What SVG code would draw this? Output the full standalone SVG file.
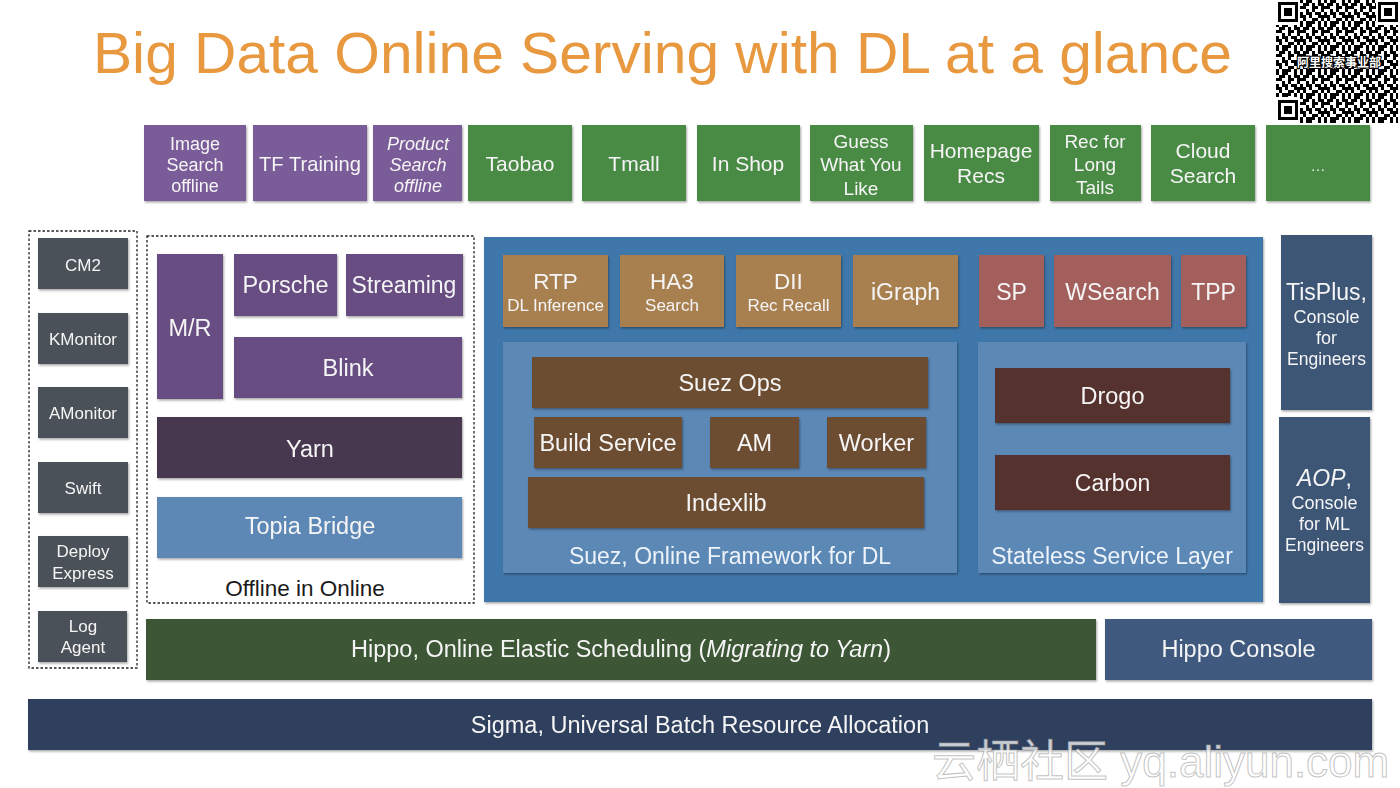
<svg xmlns="http://www.w3.org/2000/svg" width="1400" height="788" viewBox="0 0 1400 788">
<defs>
<filter id="sh" x="-10%" y="-10%" width="130%" height="140%">
<feDropShadow dx="1" dy="1.5" stdDeviation="1" flood-color="#000" flood-opacity="0.35"/>
</filter>
<pattern id="qr" x="1276" y="0" width="24" height="24" patternUnits="userSpaceOnUse">
<rect width="24" height="24" fill="#fff"/>
<path fill="#000" d="M0 0h3v3h-3zM6 0h6v3h-6zM18 0h3v3h-3zM3 3h6v3h-6zM12 3h3v3h-3zM18 3h6v3h-6zM0 6h6v3h-6zM12 6h6v3h-6zM21 6h3v3h-3zM6 9h3v3h-3zM12 9h3v3h-3zM21 9h3v3h-3zM0 12h3v3h-3zM6 12h6v3h-6zM15 12h6v3h-6zM0 15h6v3h-6zM9 15h3v3h-3zM18 15h6v3h-6zM3 18h3v3h-3zM12 18h6v3h-6zM21 18h3v3h-3zM0 21h3v3h-3zM6 21h9v3h-9zM18 21h3v3h-3z"/>
</pattern>
</defs>
<style>
text{font-family:"Liberation Sans",Arial,"Noto Sans CJK SC",sans-serif;fill:#f5f5f5;text-anchor:middle}
.b{filter:url(#sh)}
.pu{fill:#7a5c98}
.gr{fill:#4a8a45}
.gy{fill:#4b5158}
.dp{fill:#674d82}
.yn{fill:#463850}
.tb{fill:#5d87b5}
.or{fill:#a88050}
.br{fill:#6c4d33}
.rd{fill:#a25f5b}
.mr{fill:#56312e}
.sl{fill:#3c5676}
.dash{fill:none;stroke:#222;stroke-width:1.3;stroke-dasharray:2.5 2}
.t17{font-size:17px}
.t18{font-size:18px}
.t19{font-size:19px}
.t21{font-size:21px}
.t22{font-size:22.5px}
.t23{font-size:23px}
.t24{font-size:23.5px}
.s17{font-size:17px}
</style>
<rect width="1400" height="788" fill="#fff"/>

<g id="title">
<text x="93" y="73" textLength="1139" lengthAdjust="spacingAndGlyphs" style="font-size:57.5px;fill:#e8983e;text-anchor:start">Big Data Online Serving with DL at a glance</text>
</g>

<g id="qrcode">
<rect x="1276" y="0" width="122" height="123" fill="url(#qr)"/>
<rect x="1276" y="0" width="24" height="25" fill="#fff"/>
<rect x="1278" y="2" width="20" height="20" fill="#000"/><rect x="1281" y="5" width="14" height="14" fill="#fff"/><rect x="1284" y="8" width="8" height="8" fill="#000"/>
<rect x="1376" y="0" width="22" height="25" fill="#fff"/>
<rect x="1378" y="2" width="20" height="20" fill="#000"/><rect x="1381" y="5" width="14" height="14" fill="#fff"/><rect x="1384" y="8" width="8" height="8" fill="#000"/>
<rect x="1276" y="97" width="24" height="26" fill="#fff"/>
<rect x="1278" y="100" width="20" height="20" fill="#000"/><rect x="1281" y="103" width="14" height="14" fill="#fff"/><rect x="1284" y="106" width="8" height="8" fill="#000"/>
<text x="1339" y="67" style="font-size:12px;font-weight:bold;fill:#fff;stroke:#000;stroke-width:2.2;paint-order:stroke">阿里搜索事业部</text>
</g>

<g id="n-image-search" class="b"><rect class="pu" x="144" y="125" width="102" height="76"/>
<text class="t18" x="195" y="150">Image</text><text class="t18" x="195" y="171">Search</text><text class="t18" x="195" y="192">offline</text></g>
<g id="n-tf-training" class="b"><rect class="pu" x="253" y="125" width="114" height="76"/>
<text class="t21" x="310" y="171" textLength="102" lengthAdjust="spacingAndGlyphs">TF Training</text></g>
<g id="n-product-search" class="b"><rect class="pu" x="373" y="125" width="89" height="76"/>
<text class="t18" x="418" y="150" font-style="italic">Product</text><text class="t18" x="418" y="171" font-style="italic">Search</text><text class="t18" x="418" y="192" font-style="italic">offline</text></g>
<g id="n-taobao" class="b"><rect class="gr" x="468" y="125" width="104" height="76"/><text class="t21" x="520" y="171">Taobao</text></g>
<g id="n-tmall" class="b"><rect class="gr" x="582" y="125" width="104" height="76"/><text class="t21" x="634" y="171">Tmall</text></g>
<g id="n-inshop" class="b"><rect class="gr" x="697" y="125" width="103" height="76"/><text class="t21" x="748" y="171">In Shop</text></g>
<g id="n-guess" class="b"><rect class="gr" x="810" y="125" width="103" height="76"/>
<text class="t19" x="861" y="148">Guess</text><text class="t19" x="861" y="171">What You</text><text class="t19" x="861" y="195">Like</text></g>
<g id="n-homepage" class="b"><rect class="gr" x="924" y="125" width="115" height="76"/>
<text class="t21" x="981" y="158">Homepage</text><text class="t21" x="981" y="183">Recs</text></g>
<g id="n-longtails" class="b"><rect class="gr" x="1050" y="125" width="91" height="76"/>
<text class="t19" x="1095" y="148">Rec for</text><text class="t19" x="1095" y="171">Long</text><text class="t19" x="1095" y="194">Tails</text></g>
<g id="n-cloud" class="b"><rect class="gr" x="1151" y="125" width="104" height="76"/>
<text class="t21" x="1203" y="158">Cloud</text><text class="t21" x="1203" y="183">Search</text></g>
<g id="n-more" class="b"><rect class="gr" x="1266" y="125" width="104" height="76"/><text style="font-size:15px" x="1318" y="171">…</text></g>

<g id="n-monitoring">
<rect class="dash" x="29" y="231" width="108" height="437"/>
</g>
<g id="n-cm2" class="b"><rect class="gy" x="38" y="238" width="90" height="51"/><text class="t17" x="83" y="271">CM2</text></g>
<g id="n-kmonitor" class="b"><rect class="gy" x="38" y="313" width="90" height="51"/><text class="t17" x="83" y="345">KMonitor</text></g>
<g id="n-amonitor" class="b"><rect class="gy" x="38" y="387" width="90" height="51"/><text class="t17" x="83" y="419">AMonitor</text></g>
<g id="n-swift" class="b"><rect class="gy" x="38" y="462" width="90" height="51"/><text class="t17" x="83" y="494">Swift</text></g>
<g id="n-deploy" class="b"><rect class="gy" x="38" y="536" width="90" height="51"/><text class="t17" x="83" y="557">Deploy</text><text class="t17" x="83" y="579">Express</text></g>
<g id="n-logagent" class="b"><rect class="gy" x="38" y="611" width="89" height="51"/><text class="t17" x="83" y="632">Log</text><text class="t17" x="83" y="653">Agent</text></g>

<g id="n-offline">
<rect class="dash" x="147" y="236" width="327" height="367"/>
<text x="305" y="596" style="font-size:22.5px;fill:#1a1a1a">Offline in Online</text>
</g>
<g id="n-mr" class="b"><rect class="dp" x="157" y="254" width="66" height="145"/><text class="t24" x="190" y="336">M/R</text></g>
<g id="n-porsche" class="b"><rect class="dp" x="234" y="254" width="103" height="62"/><text class="t24" x="285.5" y="293">Porsche</text></g>
<g id="n-streaming" class="b"><rect class="dp" x="346" y="254" width="117" height="62"/><text class="t23" x="404" y="293">Streaming</text></g>
<g id="n-blink" class="b"><rect class="dp" x="234" y="337" width="228" height="61"/><text class="t24" x="348" y="376">Blink</text></g>
<g id="n-yarn" class="b"><rect class="yn" x="157" y="417" width="305" height="61"/><text class="t24" x="310" y="457">Yarn</text></g>
<g id="n-topia" class="b"><rect class="tb" x="157" y="497" width="305" height="61"/><text class="t24" x="310" y="534">Topia Bridge</text></g>

<g id="n-online" class="b"><rect x="484" y="237" width="779" height="365" fill="#3f77aa"/></g>
<g id="n-rtp" class="b"><rect class="or" x="503" y="255" width="105" height="72"/><text class="t22" x="555.5" y="289">RTP</text><text class="s17" x="555.5" y="311">DL Inference</text></g>
<g id="n-ha3" class="b"><rect class="or" x="620" y="255" width="104" height="72"/><text class="t22" x="672" y="289">HA3</text><text class="s17" x="672" y="311">Search</text></g>
<g id="n-dii" class="b"><rect class="or" x="736" y="255" width="105" height="72"/><text class="t22" x="788.5" y="289">DII</text><text class="s17" x="788.5" y="311">Rec Recall</text></g>
<g id="n-igraph" class="b"><rect class="or" x="853" y="255" width="105" height="72"/><text class="t23" x="905.5" y="300">iGraph</text></g>
<g id="n-sp" class="b"><rect class="rd" x="979" y="255" width="65" height="72"/><text class="t23" x="1011.5" y="300">SP</text></g>
<g id="n-wsearch" class="b"><rect class="rd" x="1054" y="255" width="117" height="72"/><text class="t23" x="1112.5" y="300">WSearch</text></g>
<g id="n-tpp" class="b"><rect class="rd" x="1181" y="255" width="65" height="72"/><text class="t23" x="1213.5" y="300">TPP</text></g>

<g id="n-suez" class="b"><rect x="503" y="342" width="454" height="231" fill="#5b88b6"/>
<text class="t23" x="730" y="564" style="fill:#eef3f9">Suez, Online Framework for DL</text></g>
<g id="n-suezops" class="b"><rect class="br" x="532" y="357" width="396" height="51"/><text class="t24" x="730" y="391">Suez Ops</text></g>
<g id="n-build" class="b"><rect class="br" x="534" y="417" width="148" height="51"/><text class="t24" x="608" y="451">Build Service</text></g>
<g id="n-am" class="b"><rect class="br" x="710" y="417" width="89" height="51"/><text class="t24" x="754.5" y="451">AM</text></g>
<g id="n-worker" class="b"><rect class="br" x="827" y="417" width="99" height="51"/><text class="t24" x="876.5" y="451">Worker</text></g>
<g id="n-indexlib" class="b"><rect class="br" x="528" y="477" width="396" height="51"/><text class="t24" x="726" y="511">Indexlib</text></g>

<g id="n-stateless" class="b"><rect x="978" y="342" width="268" height="231" fill="#5b88b6"/>
<text class="t23" x="1112" y="564" style="fill:#eef3f9">Stateless Service Layer</text></g>
<g id="n-drogo" class="b"><rect class="mr" x="995" y="368" width="235" height="55"/><text class="t24" x="1112.5" y="404">Drogo</text></g>
<g id="n-carbon" class="b"><rect class="mr" x="995" y="455" width="235" height="55"/><text class="t23" x="1112.5" y="491">Carbon</text></g>

<g id="n-tisplus" class="b"><rect class="sl" x="1281" y="235" width="91" height="175"/>
<text class="t23" x="1326.5" y="300">TisPlus,</text><text class="t18" x="1326.5" y="323">Console</text><text class="t18" x="1326.5" y="344">for</text><text style="font-size:17.5px" x="1326.5" y="365">Engineers</text></g>
<g id="n-aop" class="b"><rect class="sl" x="1279" y="417" width="91" height="186"/>
<text class="t23" x="1324.5" y="486"><tspan font-style="italic">AOP</tspan>,</text><text class="t18" x="1324.5" y="509">Console</text><text class="t18" x="1324.5" y="530">for ML</text><text style="font-size:17.5px" x="1324.5" y="551">Engineers</text></g>

<g id="n-hippo" class="b"><rect x="146" y="619" width="950" height="61" fill="#3c5634"/>
<text class="t24" x="621" y="657">Hippo, Online Elastic Scheduling (<tspan font-style="italic">Migrating to Yarn</tspan>)</text></g>
<g id="n-hippo-console" class="b"><rect x="1105" y="619" width="267" height="61" fill="#415a7f"/>
<text class="t24" x="1238.5" y="657">Hippo Console</text></g>
<g id="n-sigma" class="b"><rect x="28" y="699" width="1344" height="51" fill="#2e3f5d"/>
<text class="t24" x="700" y="733">Sigma, Universal Batch Resource Allocation</text></g>

<g id="connectors"></g>

<g id="watermark">
<text x="932" y="777" style="font-size:44px;text-anchor:start;fill:#ffffff;fill-opacity:0.75;stroke:#9a9a9a;stroke-opacity:0.6;stroke-width:1">云栖社区 yq.aliyun.com</text>
</g>
</svg>
